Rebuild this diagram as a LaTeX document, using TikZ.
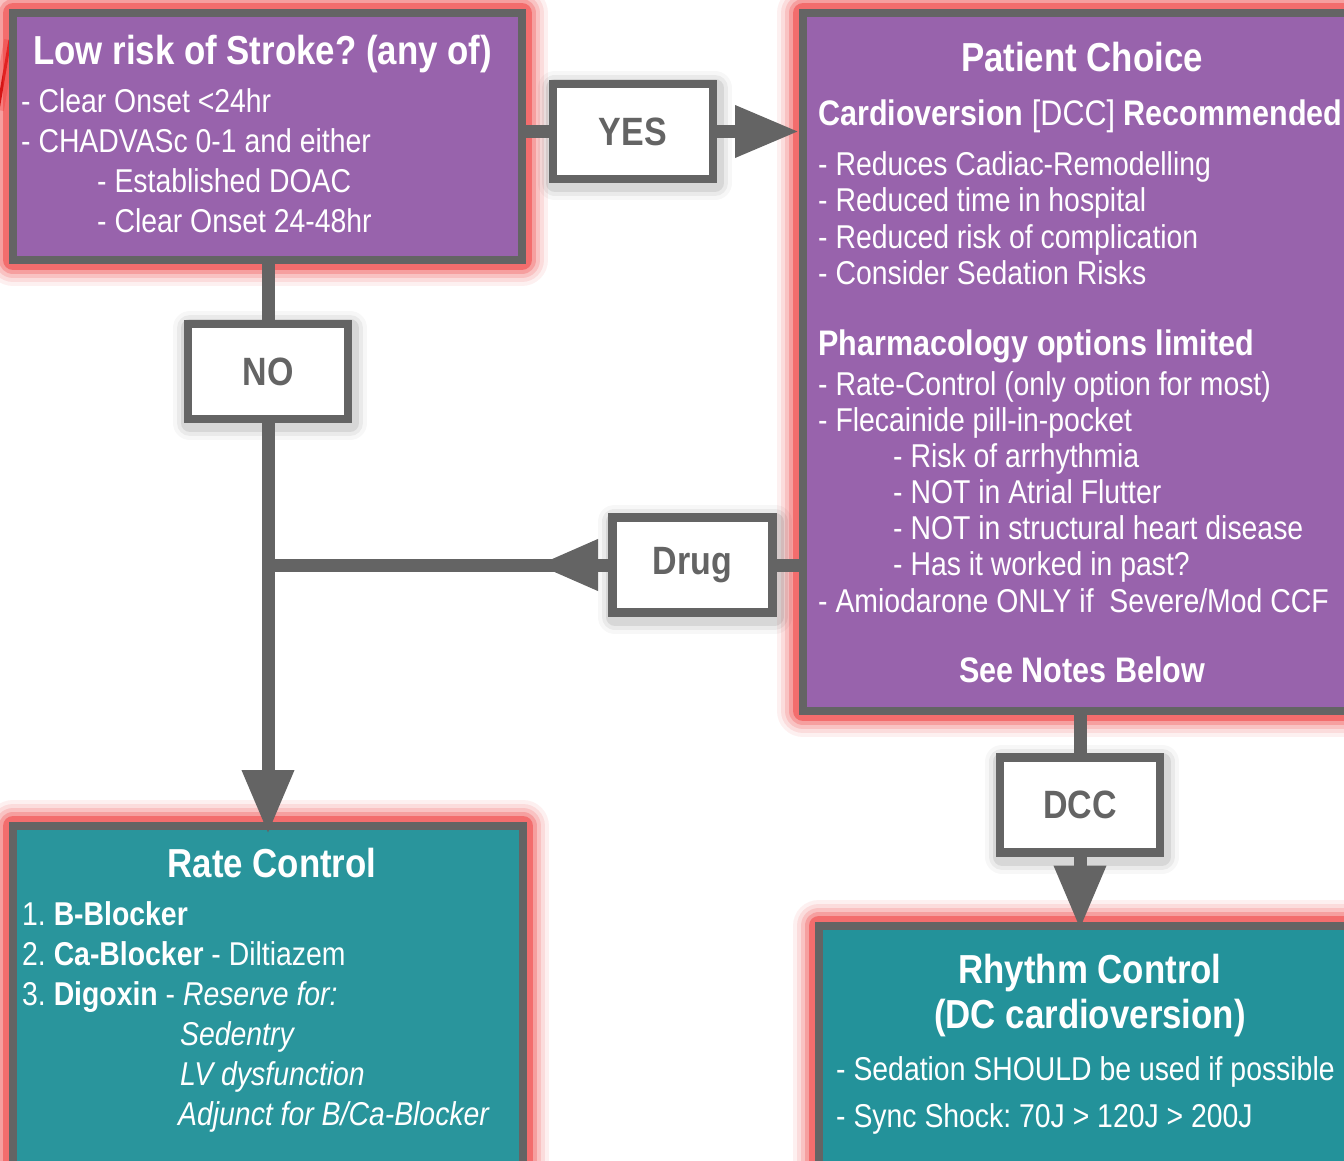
\documentclass[tikz,border=0pt]{standalone}
\usepackage{fontspec}
\setmainfont{Liberation Sans}[FakeStretch=0.86]
\usetikzlibrary{arrows.meta}
\definecolor{bordergray}{RGB}{100,100,100}
\definecolor{boxpurple}{RGB}{152,99,172}
\definecolor{boxteal}{RGB}{41,149,156}
\definecolor{boxtealb}{RGB}{35,146,154}
\definecolor{glowred}{RGB}{240,50,50}
\begin{document}
\frenchspacing
\begin{tikzpicture}[x=1pt,y=-1pt,
  mainbox/.style={draw=bordergray, line width=8pt, inner sep=0pt,
    preaction={draw=glowred, draw opacity=0.07, line width=52pt, line join=round},
    preaction={draw=glowred, draw opacity=0.10, line width=44pt, line join=round},
    preaction={draw=glowred, draw opacity=0.15, line width=36pt, line join=round},
    preaction={draw=glowred, draw opacity=0.24, line width=28pt, line join=round},
    preaction={draw=glowred, draw opacity=0.45, line width=20pt, line join=round}},
  lbl/.style={draw=bordergray, line width=8.5pt, fill=white, inner sep=0pt,
    minimum width=160pt, minimum height=95pt, text=bordergray,
    font=\fontsize{39.5}{46}\selectfont\bfseries,
    preaction={draw=black, draw opacity=0.03, line width=34pt, line join=round, transform canvas={shift={(2pt,-4pt)}}},
    preaction={draw=black, draw opacity=0.05, line width=26pt, line join=round, transform canvas={shift={(2pt,-4pt)}}},
    preaction={draw=black, draw opacity=0.08, line width=18pt, line join=round, transform canvas={shift={(2pt,-4pt)}}}},
  conn/.style={draw=bordergray, line width=13pt},
  tip/.style={-{Triangle[length=64pt,width=49pt]}},
  txt/.style={text=white, inner sep=0pt, font=\fontsize{33}{40}\selectfont},
  ttl/.style={text=white, inner sep=0pt, font=\fontsize{40.5}{48}\selectfont\bfseries},
  subt/.style={text=white, inner sep=0pt, font=\fontsize{35.5}{42}\selectfont}]
\useasboundingbox (0,0) rectangle (1344,1161);
\clip (0,0) rectangle (1344,1161);
\fill[white] (0,0) rectangle (1344,1161);

% red fragment at the left edge
\coordinate (ra) at (-2,110);
\coordinate (rb) at (10,40);
\draw[glowred, line width=12pt, opacity=0.3] (ra) -- (rb);
\draw[red!75!black, line width=3pt] (ra) -- (rb);

% main boxes
\node[mainbox, fill=boxpurple, minimum width=509pt, minimum height=247pt] (risk) at (267.5,136.5) {};
\node[mainbox, fill=boxpurple, minimum width=597pt, minimum height=698pt] (choice) at (1101.5,362) {};
\node[mainbox, fill=boxteal, minimum width=510pt, minimum height=374pt] (rate) at (268,1013) {};
\node[mainbox, fill=boxtealb, minimum width=581pt, minimum height=274.5pt] (rhythm) at (1109.5,1062.75) {};

% labels
\node[lbl] (yes) at (632.75,131.5) {YES};
\node[lbl] (no) at (268,371.5) {NO};
\node[lbl] (drug) at (692.5,565) {Drug};
\node[lbl] (dcc) at (1080,805) {DCC};

% connectors
\draw[conn] (yes.west -| risk.east) -- (yes.west);
\draw[conn, tip] (yes.east) -- (yes.east -| choice.west);
\draw[conn] (risk.south -| no.north) -- (no.north);
\draw[conn, tip, shorten >=-12pt] (no.south) -- (no.south |- rate.north);
\draw[conn] (drug.west) -- (no.south |- drug.west);
\coordinate (dtip) at (537,565);
\draw[conn, -{Triangle[length=61pt,width=48pt]}] (drug.west) -- (dtip);
\draw[conn] (drug.east -| choice.west) -- (drug.east);
\draw[conn] (choice.south -| dcc.north) -- (dcc.north);
\draw[conn, tip, shorten >=-8pt] (dcc.south) -- (dcc.south |- rhythm.north);

% box 1 text
\node[ttl, anchor=base west] (t1) at (33,65) {Low risk of Stroke? (any of)};
\node[txt, anchor=base west] (t1a) at (21,113) {- Clear Onset <24hr};
\node[txt, anchor=base west] (t1b) at (21,153) {- CHADVASc 0-1 and either};
\node[txt, anchor=base west] (t1c) at (97,193) {- Established DOAC};
\node[txt, anchor=base west] (t1d) at (97,233) {- Clear Onset 24-48hr};

% box 2 text
\node[ttl, anchor=base] (t2) at (1082,72) {Patient Choice};
\node[subt, anchor=base west] (t2a) at (818,126) {{\bfseries Cardioversion} [DCC] {\bfseries Recommended}};
\node[txt, anchor=base west] (t2b) at (818,176) {- Reduces Cadiac-Remodelling};
\node[txt, anchor=base west] (t2c) at (818,212) {- Reduced time in hospital};
\node[txt, anchor=base west] (t2d) at (818,248) {- Reduced risk of complication};
\node[txt, anchor=base west] (t2e) at (818,284) {- Consider Sedation Risks};
\node[subt, anchor=base west] (t2f) at (818,355) {\bfseries Pharmacology options limited};
\node[txt, anchor=base west] (t2g) at (818,395) {- Rate-Control (only option for most)};
\node[txt, anchor=base west] (t2h) at (818,431) {- Flecainide pill-in-pocket};
\node[txt, anchor=base west] (t2i) at (893,467) {- Risk of arrhythmia};
\node[txt, anchor=base west] (t2j) at (893,503) {- NOT in Atrial Flutter};
\node[txt, anchor=base west] (t2k) at (893,539) {- NOT in structural heart disease};
\node[txt, anchor=base west] (t2l) at (893,575) {- Has it worked in past?};
\node[txt, anchor=base west] (t2m) at (818,612) {- Amiodarone ONLY if~~Severe/Mod CCF};
\node[subt, anchor=base] (t2n) at (1082,682) {\bfseries See Notes Below};

% box 3 text
\node[ttl, anchor=base] (t3) at (272,877) {Rate Control};
\node[txt, anchor=base west] (t3a) at (22,925) {1. \textbf{B-Blocker}};
\node[txt, anchor=base west] (t3b) at (22,965) {2. \textbf{Ca-Blocker} - Diltiazem};
\node[txt, anchor=base west] (t3c) at (22,1005) {3. \textbf{Digoxin} - \textit{Reserve for:}};
\node[txt, anchor=base west] (t3d) at (180,1045) {\itshape Sedentry};
\node[txt, anchor=base west] (t3e) at (180,1085) {\itshape LV dysfunction};
\node[txt, anchor=base west] (t3f) at (178,1125) {\itshape Adjunct for B/Ca-Blocker};

% box 4 text
\node[ttl, anchor=base] (t4) at (1090,983) {Rhythm Control};
\node[ttl, anchor=base] (t4a) at (1090,1028) {(DC cardioversion)};
\node[txt, anchor=base west] (t4b) at (836,1080) {- Sedation SHOULD be used if possible};
\node[txt, anchor=base west] (t4c) at (836,1127) {- Sync Shock: 70J > 120J > 200J};
\end{tikzpicture}
\end{document}
